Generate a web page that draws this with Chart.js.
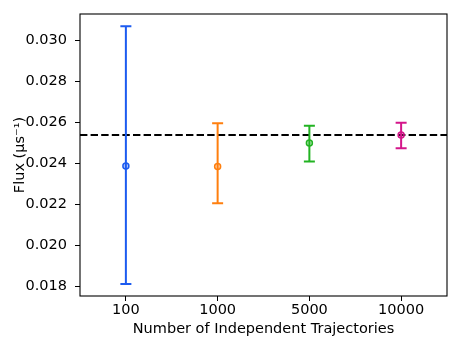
<!DOCTYPE html>
<html>
<head>
<meta charset="utf-8">
<script src="https://cdn.jsdelivr.net/npm/chart.js@4.4.0/dist/chart.umd.min.js"></script>
<style>
  body { margin: 0; background: #fff; }
  canvas { display: block; }
</style>
</head>
<body>
<canvas id="chart" width="461" height="346"></canvas>
<script>
/* ================= DATA ================= */
const categories = ["100", "1000", "5000", "10000"];
const fluxMean = [0.02387, 0.02384, 0.02499, 0.02537];
const fluxLower = [0.01811, 0.02205, 0.02408, 0.02473];
const fluxUpper = [0.03067, 0.02595, 0.02582, 0.02597];
const referenceFlux = 0.02538;
const yTicks = [0.018, 0.020, 0.022, 0.024, 0.026, 0.028, 0.030];
const pointColors = ["#1c5bf0", "#ff7f0e", "#22b322", "#d4168a"];

const FONT = "'DejaVu Sans', sans-serif";
const FONT_SIZE = 14.5;

/* ================= ERROR BARS + REF LINE ================= */
const errorBarPlugin = {
    id: "errorBars",
    beforeDatasetsDraw(chart) {
        const { ctx, chartArea, scales: { x, y } } = chart;
        ctx.save();

        // dashed reference line
        const yr = y.getPixelForValue(referenceFlux);
        ctx.strokeStyle = "#000";
        ctx.lineWidth = 2;
        ctx.setLineDash([7.4, 3.2]);
        ctx.beginPath();
        ctx.moveTo(chartArea.left, yr);
        ctx.lineTo(chartArea.right, yr);
        ctx.stroke();
        ctx.setLineDash([]);

        // error bars
        categories.forEach((c, i) => {
            const px = x.getPixelForValue(i);
            const yl = y.getPixelForValue(fluxLower[i]);
            const yu = y.getPixelForValue(fluxUpper[i]);
            ctx.strokeStyle = pointColors[i];
            ctx.lineWidth = 2;
            ctx.beginPath();
            ctx.moveTo(px, yl);
            ctx.lineTo(px, yu);
            ctx.moveTo(px - 5.5, yl);
            ctx.lineTo(px + 5.5, yl);
            ctx.moveTo(px - 5.5, yu);
            ctx.lineTo(px + 5.5, yu);
            ctx.stroke();
        });
        ctx.restore();
    },
    afterDraw(chart) {
        const { ctx, chartArea } = chart;
        ctx.save();
        ctx.strokeStyle = "#000";
        ctx.lineWidth = 1.1;
        ctx.strokeRect(chartArea.left, chartArea.top,
            chartArea.right - chartArea.left, chartArea.bottom - chartArea.top);
        ctx.restore();
    }
};

/* ================= CHART ================= */
new Chart(document.getElementById("chart"), {
    type: "line",
    data: {
        labels: categories,
        datasets: [{
            data: fluxMean,
            showLine: false,
            pointRadius: 3,
            pointBorderWidth: 1.5,
            pointBorderColor: pointColors,
            pointBackgroundColor: pointColors.map(c => c + "55")
        }]
    },
    options: {
        responsive: false,
        devicePixelRatio: 1,
        animation: false,
        layout: { padding: { left: 0, top: 14, right: 14, bottom: 0 } },
        plugins: {
            legend: { display: false },
            tooltip: { enabled: false }
        },
        scales: {
            x: {
                type: "category",
                offset: true,
                grid: {
                    display: true,
                    drawOnChartArea: false,
                    tickLength: 5,
                    tickColor: "#000",
                    tickWidth: 1
                },
                border: { display: false },
                ticks: {
                    color: "#000",
                    padding: 1,
                    maxRotation: 0,
                    font: { family: FONT, size: FONT_SIZE }
                },
                title: {
                    display: true,
                    text: "Number of Independent Trajectories",
                    color: "#000",
                    padding: { top: 0, bottom: 8 },
                    font: { family: FONT, size: FONT_SIZE }
                },
                afterFit(scale) {
                    scale.height = 50;
                    scale.paddingLeft = 0;
                    scale.paddingRight = 0;
                }
            },
            y: {
                min: 0.01753,
                max: 0.03127,
                grid: {
                    display: true,
                    drawOnChartArea: false,
                    tickLength: 5,
                    tickColor: "#000",
                    tickWidth: 1
                },
                border: { display: false },
                ticks: {
                    color: "#000",
                    padding: 8,
                    font: { family: FONT, size: FONT_SIZE },
                    callback: v => v.toFixed(3)
                },
                afterBuildTicks(scale) {
                    scale.ticks = yTicks.map(v => ({ value: v }));
                },
                title: {
                    display: true,
                    text: "Flux (μs⁻¹)",
                    color: "#000",
                    padding: { top: 12, bottom: 0 },
                    font: { family: FONT, size: FONT_SIZE }
                },
                afterFit(scale) {
                    scale.width = 80;
                    scale.paddingTop = 0;
                    scale.paddingBottom = 0;
                }
            }
        }
    },
    plugins: [errorBarPlugin]
});
</script>
</body>
</html>
